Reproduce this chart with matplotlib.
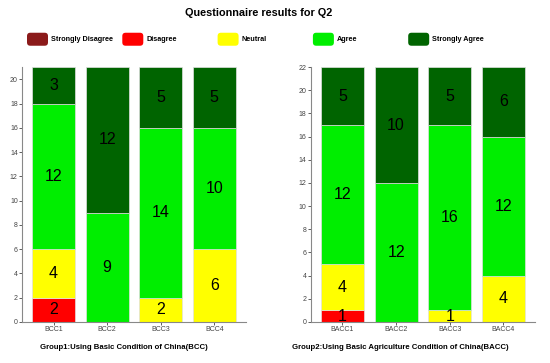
import matplotlib.pyplot as plt
from matplotlib.patches import FancyBboxPatch

levels = ["Strongly Disagree", "Disagree", "Neutral", "Agree", "Strongly Agree"]
colors = ["#8B1A1A", "#FF0000", "#FFFF00", "#00EE00", "#006400"]

bcc_labels = ["BCC1", "BCC2", "BCC3", "BCC4"]
bcc_sd = [0, 0, 0, 0]
bcc_d = [2, 0, 0, 0]
bcc_n = [4, 0, 2, 6]
bcc_a = [12, 9, 14, 10]
bcc_sa = [3, 12, 5, 5]

bacc_labels = ["BACC1", "BACC2", "BACC3", "BACC4"]
bacc_sd = [0, 0, 0, 0]
bacc_d = [1, 0, 0, 0]
bacc_n = [4, 0, 1, 4]
bacc_a = [12, 12, 16, 12]
bacc_sa = [5, 10, 5, 6]

font = ["Liberation Sans", "DejaVu Sans"]
plt.rcParams["font.family"] = font

fig = plt.figure(figsize=(5.5, 3.63), dpi=100)
ax1 = fig.add_axes([0.04, 0.113, 0.407, 0.702])
ax2 = fig.add_axes([0.565, 0.113, 0.408, 0.702])


def draw(ax, labels, series, ymax, yticks):
    x = range(len(labels))
    bottom = [0] * len(labels)
    for vals, c in zip(series, colors):
        ax.bar(x, vals, width=0.8, bottom=bottom, color=c,
               edgecolor="#e0e0e0", linewidth=0.5)
        for i, v in enumerate(vals):
            if v > 0:
                ax.text(i, bottom[i] + v / 2, str(v), ha="center", va="center",
                        fontsize=11.5, color="black")
        bottom = [b + v for b, v in zip(bottom, vals)]
    ax.set_xlim(-0.59, len(labels) - 0.41)
    ax.set_ylim(0, ymax)
    ax.set_xticks(list(x))
    ax.set_xticklabels(labels)
    ax.set_yticks(yticks)
    ax.tick_params(labelsize=5, colors="#444444", length=2, width=0.6, pad=1)
    for s in ["top", "right"]:
        ax.spines[s].set_visible(False)
    for s in ["left", "bottom"]:
        ax.spines[s].set_color("#888888")
        ax.spines[s].set_linewidth(0.8)


draw(ax1, bcc_labels, [bcc_sd, bcc_d, bcc_n, bcc_a, bcc_sa], 21, range(0, 21, 2))
draw(ax2, bacc_labels, [bacc_sd, bacc_d, bacc_n, bacc_a, bacc_sa], 22, range(0, 23, 2))

fig.text(0.471, 0.965, "Questionnaire results for Q2", ha="center", va="center",
         fontsize=7.8, fontweight="bold")
fig.text(0.225, 0.044, "Group1:Using Basic Condition of China(BCC)", ha="center",
         va="center", fontsize=5.6, fontweight="bold")
fig.text(0.727, 0.044, "Group2:Using Basic Agriculture Condition of China(BACC)",
         ha="center", va="center", fontsize=5.6, fontweight="bold")

# legend: evenly spaced swatches with rounded corners
for k, (lab, c) in enumerate(zip(levels, colors)):
    x0 = (27 + 95.3 * k) / 550
    fig.patches.append(FancyBboxPatch((x0, 0.874), 21 / 550, 13 / 363,
                                      boxstyle="round,pad=0,rounding_size=0.006",
                                      mutation_aspect=550 / 363,
                                      transform=fig.transFigure, facecolor=c,
                                      edgecolor="none"))
    fig.text(x0 + 24 / 550, 0.892, lab, ha="left", va="center", fontsize=5.2,
             fontweight="bold")

fig.savefig("out.png", dpi=100)
